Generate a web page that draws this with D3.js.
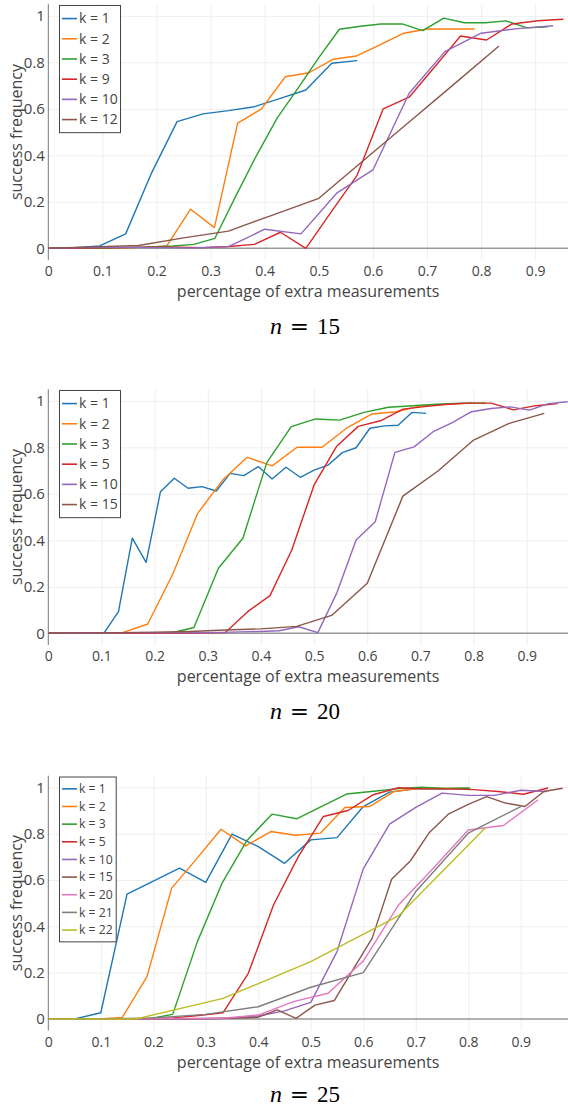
<!DOCTYPE html>
<html><head><meta charset="utf-8">
<script src="https://cdn.jsdelivr.net/npm/d3@7"></script>
<style>
body{margin:0;background:#fff}
svg{display:block}
text{font-family:"Open Sans",sans-serif}
</style>
</head><body>
<svg id="chart" width="568" height="1108"></svg>
<script>
// ---------- labels ----------
const xTitle = "percentage of extra measurements";
const yTitle = "success frequency";
const yTicks = [0, 0.2, 0.4, 0.6, 0.8, 1];
const xTicks = [0, 0.1, 0.2, 0.3, 0.4, 0.5, 0.6, 0.7, 0.8, 0.9];
const palette = ["#1f77b4","#ff7f0e","#2ca02c","#d62728","#9467bd","#8c564b","#e377c2","#7f7f7f","#bcbd22"];

// ---------- n = 15 ----------
const n15_k1_x = [0,0.048,0.095,0.143,0.190,0.238,0.286,0.333,0.381,0.429,0.476,0.524,0.571];
const n15_k1_y = [0,0.003,0.01,0.062,0.32,0.545,0.578,0.592,0.609,0.645,0.681,0.796,0.807];
const n15_k2_x = [0,0.044,0.088,0.131,0.175,0.219,0.263,0.307,0.350,0.394,0.438,0.482,0.526,0.569,0.613,0.657,0.701,0.745,0.788];
const n15_k2_y = [0,0,0,0.002,0.004,0.01,0.168,0.089,0.538,0.600,0.738,0.755,0.813,0.827,0.875,0.925,0.943,0.943,0.943];
const n15_k3_x = [0,0.038,0.077,0.115,0.154,0.192,0.231,0.269,0.308,0.346,0.385,0.423,0.462,0.500,0.538,0.577,0.615,0.654,0.692,0.731,0.769,0.808,0.846,0.885,0.923];
const n15_k3_y = [0,0,0,0.002,0.004,0.006,0.01,0.017,0.043,0.222,0.40,0.56,0.69,0.82,0.942,0.955,0.965,0.965,0.936,0.99,0.97,0.97,0.978,0.948,0.953];
const n15_k9_x = [0,0.048,0.095,0.143,0.190,0.238,0.286,0.333,0.381,0.429,0.476,0.524,0.571,0.619,0.667,0.714,0.762,0.810,0.857,0.905,0.952];
const n15_k9_y = [0,0,0.002,0.003,0.005,0.005,0.003,0.008,0.017,0.069,0,0.16,0.315,0.6,0.65,0.78,0.913,0.896,0.965,0.979,0.985];
const n15_k10_x = [0,0.067,0.133,0.2,0.267,0.333,0.4,0.467,0.533,0.6,0.667,0.733,0.8,0.867,0.933];
const n15_k10_y = [0,0.003,0.005,0.003,0.002,0.007,0.082,0.062,0.237,0.337,0.667,0.846,0.925,0.945,0.957];
const n15_k12_x = [0,0.083,0.167,0.25,0.333,0.417,0.5,0.583,0.667,0.75,0.833];
const n15_k12_y = [0,0.006,0.012,0.045,0.074,0.145,0.215,0.379,0.543,0.706,0.87];

// ---------- n = 20 ----------
const n20_k1_x = [0,0.026,0.053,0.079,0.105,0.132,0.158,0.184,0.211,0.237,0.263,0.289,0.316,0.342,0.368,0.395,0.421,0.447,0.474,0.500,0.526,0.553,0.579,0.605,0.632,0.658,0.684,0.711];
const n20_k1_y = [0,0,0.002,0.002,0.002,0.093,0.409,0.305,0.609,0.667,0.624,0.631,0.612,0.688,0.678,0.717,0.664,0.714,0.671,0.702,0.723,0.777,0.798,0.882,0.892,0.895,0.950,0.946];
const n20_k2_x = [0,0.047,0.094,0.140,0.187,0.234,0.281,0.328,0.374,0.421,0.468,0.515,0.562,0.608,0.655,0.702,0.749,0.796];
const n20_k2_y = [0,0,0,0.003,0.04,0.254,0.516,0.659,0.757,0.72,0.80,0.80,0.884,0.943,0.953,0.979,0.985,0.99];
const n20_k3_x = [0,0.046,0.091,0.137,0.183,0.229,0.274,0.320,0.366,0.411,0.457,0.503,0.548,0.594,0.640,0.686,0.731,0.777,0.823];
const n20_k3_y = [0,0,0,0,0,0,0.025,0.28,0.409,0.734,0.889,0.922,0.917,0.950,0.972,0.979,0.985,0.99,0.99];
const n20_k5_x = [0,0.042,0.083,0.125,0.167,0.208,0.250,0.292,0.333,0.375,0.417,0.458,0.500,0.542,0.583,0.625,0.667,0.708,0.750,0.792,0.833,0.875,0.917,0.958];
const n20_k5_y = [0,0,0,0,0,0,0,0.002,0.003,0.093,0.162,0.358,0.638,0.803,0.89,0.914,0.964,0.975,0.985,0.99,0.99,0.961,0.979,0.988];
const n20_k10_x = [0,0.036,0.072,0.109,0.145,0.181,0.217,0.253,0.290,0.326,0.362,0.398,0.434,0.471,0.507,0.543,0.579,0.615,0.652,0.688,0.724,0.760,0.796,0.833,0.869,0.905,0.941,0.977];
const n20_k10_y = [0,0,0.001,0.001,0.002,0.002,0.002,0.002,0.003,0.004,0.006,0.008,0.011,0.028,0.003,0.175,0.401,0.48,0.778,0.802,0.867,0.906,0.953,0.967,0.974,0.960,0.988,0.996];
const n20_k15_x = [0,0.067,0.133,0.2,0.267,0.333,0.4,0.467,0.533,0.6,0.667,0.733,0.8,0.867,0.933];
const n20_k15_y = [0,0.002,0.003,0.005,0.008,0.014,0.019,0.03,0.077,0.215,0.59,0.698,0.831,0.903,0.946];

// ---------- n = 25 ----------
const n25_k1_x = [0,0.05,0.1,0.15,0.2,0.25,0.3,0.35,0.4,0.45,0.5,0.55,0.6,0.65,0.7,0.75,0.8];
const n25_k1_y = [0,0,0.027,0.539,0.595,0.651,0.590,0.798,0.744,0.672,0.773,0.783,0.917,0.979,0.993,0.993,0.996];
const n25_k2_x = [0,0.047,0.094,0.141,0.188,0.235,0.282,0.329,0.376,0.424,0.471,0.518,0.565,0.612,0.659,0.706,0.753,0.800];
const n25_k2_y = [0,0,0,0.007,0.183,0.565,0.69,0.819,0.747,0.809,0.793,0.802,0.913,0.917,0.982,0.996,0.995,0.996];
const n25_k3_x = [0,0.047,0.095,0.142,0.189,0.237,0.284,0.331,0.378,0.426,0.473,0.520,0.568,0.615,0.662,0.710,0.757,0.804];
const n25_k3_y = [0,0,0,0,0,0.02,0.334,0.586,0.769,0.884,0.864,0.917,0.971,0.982,0.993,1.0,0.995,0.996];
const n25_k5_x = [0,0.048,0.095,0.143,0.190,0.238,0.286,0.333,0.381,0.429,0.476,0.524,0.571,0.619,0.667,0.714,0.762,0.810,0.857,0.905,0.952];
const n25_k5_y = [0,0,0,0,0.002,0.005,0.015,0.027,0.197,0.492,0.70,0.874,0.90,0.968,0.998,0.993,0.993,0.99,0.982,0.97,0.997];
const n25_k10_x = [0,0.05,0.1,0.15,0.2,0.25,0.3,0.35,0.4,0.45,0.5,0.55,0.6,0.65,0.7,0.75,0.8,0.85,0.9,0.95];
const n25_k10_y = [0,0,0,0,0,0.001,0.002,0.004,0.013,0.035,0.072,0.291,0.648,0.841,0.913,0.975,0.965,0.965,0.987,0.982];
const n25_k15_x = [0,0.036,0.073,0.109,0.145,0.182,0.218,0.254,0.290,0.327,0.363,0.399,0.436,0.472,0.508,0.545,0.581,0.617,0.654,0.690,0.726,0.762,0.799,0.835,0.871,0.908,0.944,0.980];
const n25_k15_y = [0,0,0,0,0,0,0,0,0.001,0.002,0.004,0.007,0.039,0.003,0.06,0.08,0.215,0.349,0.603,0.683,0.805,0.884,0.925,0.96,0.932,0.917,0.982,0.996];
const n25_k20_x = [0,0.067,0.133,0.2,0.267,0.333,0.4,0.467,0.533,0.6,0.667,0.733,0.8,0.867,0.933];
const n25_k20_y = [0,0,0,0.001,0.002,0.003,0.017,0.075,0.111,0.25,0.492,0.65,0.816,0.835,0.946];
const n25_k21_x = [0,0.1,0.2,0.3,0.4,0.5,0.6,0.7,0.8,0.9];
const n25_k21_y = [0,0,0.005,0.02,0.053,0.137,0.2,0.55,0.802,0.917];
const n25_k22_x = [0,0.167,0.333,0.5,0.667,0.833];
const n25_k22_y = [0,0,0.089,0.248,0.445,0.826];

// ---------- panels ----------
const panels = [
  { n: "15", xMax: 0.9606, zeroY: 248.3, oneY: 15.8, titleY: 333.5,
    legend: { w: 61, rowH: 20.2, font: 14 },
    series: [
      {k:1,  x:n15_k1_x,  y:n15_k1_y,  c:0},
      {k:2,  x:n15_k2_x,  y:n15_k2_y,  c:1},
      {k:3,  x:n15_k3_x,  y:n15_k3_y,  c:2},
      {k:9,  x:n15_k9_x,  y:n15_k9_y,  c:3},
      {k:10, x:n15_k10_x, y:n15_k10_y, c:4},
      {k:12, x:n15_k12_x, y:n15_k12_y, c:5}
    ]},
  { n: "20", xMax: 0.9776, zeroY: 633.3, oneY: 400.8, titleY: 718.5,
    legend: { w: 61, rowH: 20.2, font: 14 },
    series: [
      {k:1,  x:n20_k1_x,  y:n20_k1_y,  c:0},
      {k:2,  x:n20_k2_x,  y:n20_k2_y,  c:1},
      {k:3,  x:n20_k3_x,  y:n20_k3_y,  c:2},
      {k:5,  x:n20_k5_x,  y:n20_k5_y,  c:3},
      {k:10, x:n20_k10_x, y:n20_k10_y, c:4},
      {k:15, x:n20_k15_x, y:n20_k15_y, c:5}
    ]},
  { n: "25", xMax: 0.990, zeroY: 1019, oneY: 787.3, titleY: 1101.5,
    legend: { w: 56.7, rowH: 17.65, font: 12.2 },
    series: [
      {k:1,  x:n25_k1_x,  y:n25_k1_y,  c:0},
      {k:2,  x:n25_k2_x,  y:n25_k2_y,  c:1},
      {k:3,  x:n25_k3_x,  y:n25_k3_y,  c:2},
      {k:5,  x:n25_k5_x,  y:n25_k5_y,  c:3},
      {k:10, x:n25_k10_x, y:n25_k10_y, c:4},
      {k:15, x:n25_k15_x, y:n25_k15_y, c:5},
      {k:20, x:n25_k20_x, y:n25_k20_y, c:6},
      {k:21, x:n25_k21_x, y:n25_k21_y, c:7},
      {k:22, x:n25_k22_x, y:n25_k22_y, c:8}
    ]}
];

const svg = d3.select("#chart");
const left = 48.3, right = 568;
const textCol = "#444";

panels.forEach((p, pi) => {
  const y = d3.scaleLinear().domain([0, 1]).range([p.zeroY, p.oneY]);
  const x = d3.scaleLinear().domain([0, p.xMax]).range([left, right]);
  const top = y(1.05), bottom = y(-0.05);
  const g = svg.append("g");

  // clip
  const cid = "clip" + pi;
  svg.append("clipPath").attr("id", cid).append("rect")
    .attr("x", left).attr("y", top).attr("width", right - left).attr("height", bottom - top);

  // grid
  const gy = g.append("g").attr("transform", `translate(${left},0)`)
    .call(d3.axisLeft(y).tickValues(yTicks.filter(v => v !== 0)).tickSize(-(right - left)).tickFormat(""));
  gy.select(".domain").remove();
  gy.selectAll("line").attr("stroke", "#eee").attr("stroke-width", 1);
  const gx = g.append("g").attr("transform", `translate(0,${bottom})`)
    .call(d3.axisBottom(x).tickValues(xTicks.filter(v => v !== 0)).tickSize(-(bottom - top)).tickFormat(""));
  gx.select(".domain").remove();
  gx.selectAll("line").attr("stroke", "#eee").attr("stroke-width", 1);

  // zero line
  g.append("line").attr("x1", left).attr("x2", right).attr("y1", y(0)).attr("y2", y(0))
    .attr("stroke", "#999").attr("stroke-width", 1.5);

  // y axis line + labels
  const ay = g.append("g").attr("transform", `translate(${left},0)`)
    .call(d3.axisLeft(y).tickValues(yTicks).tickSize(0).tickPadding(3.5).tickFormat(d3.format("~g")));
  ay.select(".domain").remove();
  ay.selectAll("text").attr("fill", textCol).style("font-size", "15px").style("font-family", "'Open Sans',sans-serif");
  g.append("line").attr("x1", left).attr("x2", left).attr("y1", top).attr("y2", bottom)
    .attr("stroke", "#777").attr("stroke-width", 1);

  // x labels
  const ax = g.append("g").attr("transform", `translate(0,${bottom})`)
    .call(d3.axisBottom(x).tickValues(xTicks).tickSize(0).tickPadding(6).tickFormat(d3.format("~g")));
  ax.select(".domain").remove();
  ax.selectAll("text").attr("fill", textCol).style("font-size", "14px").style("font-family", "'Open Sans',sans-serif");

  // axis titles
  g.append("text").attr("x", (left + right) / 2).attr("y", bottom + 37.5)
    .attr("text-anchor", "middle").attr("fill", textCol).style("font-size", "16px").text(xTitle);
  g.append("text").attr("transform", `translate(21.5,${(top + bottom) / 2}) rotate(-90)`)
    .attr("text-anchor", "middle").attr("fill", textCol).style("font-size", "16px").text(yTitle);

  // lines
  const line = d3.line().x(d => x(d[0])).y(d => y(d[1]));
  const lg = g.append("g").attr("clip-path", `url(#${cid})`);
  p.series.forEach(s => {
    const pts = s.x.map((v, i) => [v, s.y[i]]);
    lg.append("path").attr("d", line(pts)).attr("fill", "none")
      .attr("stroke", palette[s.c]).attr("stroke-width", 1.4).attr("stroke-linejoin", "round");
  });

  // legend
  const L = p.legend;
  const lx = left + 10.7, ly = top + 0.8;
  const lh = p.series.length * L.rowH + 6;
  const leg = g.append("g");
  leg.append("rect").attr("x", lx + 0.5).attr("y", ly + 0.5).attr("width", L.w).attr("height", lh)
    .attr("fill", "#fff").attr("stroke", "#444").attr("stroke-width", 1);
  p.series.forEach((s, i) => {
    const cy = ly + 3.5 + L.rowH * (i + 0.5);
    leg.append("line").attr("x1", lx + 3).attr("x2", lx + 18).attr("y1", cy).attr("y2", cy)
      .attr("stroke", palette[s.c]).attr("stroke-width", 1.6);
    leg.append("text").attr("x", lx + 20).attr("y", cy).attr("dy", "0.35em")
      .attr("fill", textCol).style("font-size", L.font + "px").text("k = " + s.k);
  });

  // panel title  n = XX
  const cx = 304;
  const tg = g.append("g");
  tg.append("text").attr("x", cx - 28).attr("y", p.titleY).attr("text-anchor", "middle")
    .style("font-family", "'Liberation Serif',serif").style("font-style", "italic").style("font-size", "24px")
    .attr("fill", "#000").text("n");
  tg.append("text").attr("x", cx - 4.5).attr("y", p.titleY).attr("text-anchor", "middle")
    .style("font-family", "'DejaVu Serif',serif").style("font-size", "23px").attr("fill", "#000").text("=");
  tg.append("text").attr("x", cx + 24.5).attr("y", p.titleY).attr("text-anchor", "middle")
    .style("font-family", "'Liberation Serif',serif").style("font-size", "23px").attr("fill", "#000").text(p.n);
});
</script>
</body></html>
